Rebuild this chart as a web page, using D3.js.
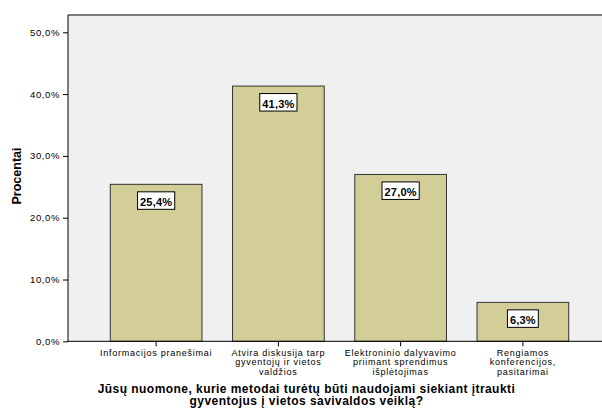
<!DOCTYPE html>
<html><head><meta charset="utf-8">
<script src="https://cdn.jsdelivr.net/npm/d3@7"></script>
<style>body{margin:0;background:#fff}svg{display:block}</style>
</head><body>
<svg id="c" width="602" height="410"></svg>
<script>
const categories = [
  ["Informacijos pranešimai"],
  ["Atvira diskusija tarp", "gyventojų ir vietos", "valdžios"],
  ["Elektroninio dalyvavimo", "priimant sprendimus", "išplėtojimas"],
  ["Rengiamos", "konferencijos,", "pasitarimai"]
];
const values = [25.4, 41.3, 27.0, 6.3];
const yTicks = [0, 10, 20, 30, 40, 50];
const yTitle = "Procentai";
const xTitle = ["Jūsų nuomone, kurie metodai turėtų būti naudojami siekiant įtraukti", "gyventojus į vietos savivaldos veiklą?"];

const svg = d3.select("#c");
const L = 68, T = 15, R = 602, B = 341.3;
const FF = "Arial, Liberation Sans, sans-serif";
const fmt = v => v.toFixed(1).replace(".", ",") + "%";

svg.append("rect").attr("x", L).attr("y", T).attr("width", R - L).attr("height", B - T).attr("fill", "#f0f0f0");

const y = d3.scaleLinear().domain([0, 50]).range([B, 32.3]);
const x = d3.scaleBand().domain(d3.range(categories.length)).range([95, 584]).paddingInner(0.25).paddingOuter(0.125);

const g = svg.append("g");
g.selectAll("rect.bar").data(values).join("rect")
  .attr("class", "bar")
  .attr("x", (d, i) => x(i)).attr("y", d => y(d))
  .attr("width", x.bandwidth()).attr("height", d => B - y(d))
  .attr("fill", "#d3ce98").attr("stroke", "#333").attr("stroke-width", 1);

// value labels
const lab = g.selectAll("g.lab").data(values).join("g").attr("class", "lab");
lab.each(function(d, i) {
  const s = d3.select(this);
  const cx = x(i) + x.bandwidth() / 2;
  const t = s.append("text").attr("x", cx).attr("y", y(d) + 21.5)
    .attr("text-anchor", "middle").attr("font-family", FF)
    .attr("font-weight", "bold").attr("font-size", 11).attr("letter-spacing", 0.2).attr("fill", "#000").text(fmt(d));
  const w = t.node().getComputedTextLength() + 5;
  s.insert("rect", "text").attr("x", cx - w / 2).attr("y", y(d) + 7.5).attr("width", w).attr("height", 17.5)
    .attr("fill", "#fff").attr("stroke", "#000").attr("stroke-width", 1);
});

// Axes
const ya = svg.append("g").attr("transform", `translate(${L},0)`)
  .call(d3.axisLeft(y).tickValues(yTicks).tickSize(5).tickPadding(3).tickFormat(fmt));
ya.select(".domain").remove();
ya.selectAll("text").attr("font-family", FF).attr("font-size", 9.5).attr("letter-spacing", 0.6).attr("fill", "#000");
ya.selectAll("line").attr("stroke", "#000");

const xa = svg.append("g").attr("transform", `translate(0,${B})`)
  .call(d3.axisBottom(x).tickSize(5).tickFormat(""));
xa.select(".domain").remove();
xa.selectAll("line").attr("stroke", "#000");

svg.append("line").attr("x1", L).attr("x2", L).attr("y1", T).attr("y2", B + 0.5).attr("stroke", "#000");
svg.append("line").attr("x1", L).attr("x2", R).attr("y1", B).attr("y2", B).attr("stroke", "#000");
svg.append("line").attr("x1", L).attr("x2", R).attr("y1", T).attr("y2", T).attr("stroke", "#000");

// category labels
categories.forEach((lines, i) => {
  const t = svg.append("text").attr("text-anchor", "middle")
    .attr("font-family", FF).attr("font-size", 9).attr("letter-spacing", 0.75).attr("fill", "#000");
  lines.forEach((ln, j) => {
    t.append("tspan").attr("x", x(i) + x.bandwidth() / 2).attr("y", 355.5 + j * 9.5).text(ln);
  });
});

// titles
const xt = svg.append("text").attr("text-anchor", "middle")
  .attr("font-family", FF).attr("font-weight", "bold").attr("font-size", 12).attr("letter-spacing", 0.45).attr("fill", "#000");
xTitle.forEach((ln, j) => xt.append("tspan").attr("x", 306.5).attr("y", 392.5 + j * 12.5).text(ln));

svg.append("text").attr("transform", "translate(21,176) rotate(-90)").attr("text-anchor", "middle")
  .attr("font-family", FF).attr("font-weight", "bold").attr("font-size", 12.5).attr("fill", "#000").text(yTitle);
</script>
</body></html>
